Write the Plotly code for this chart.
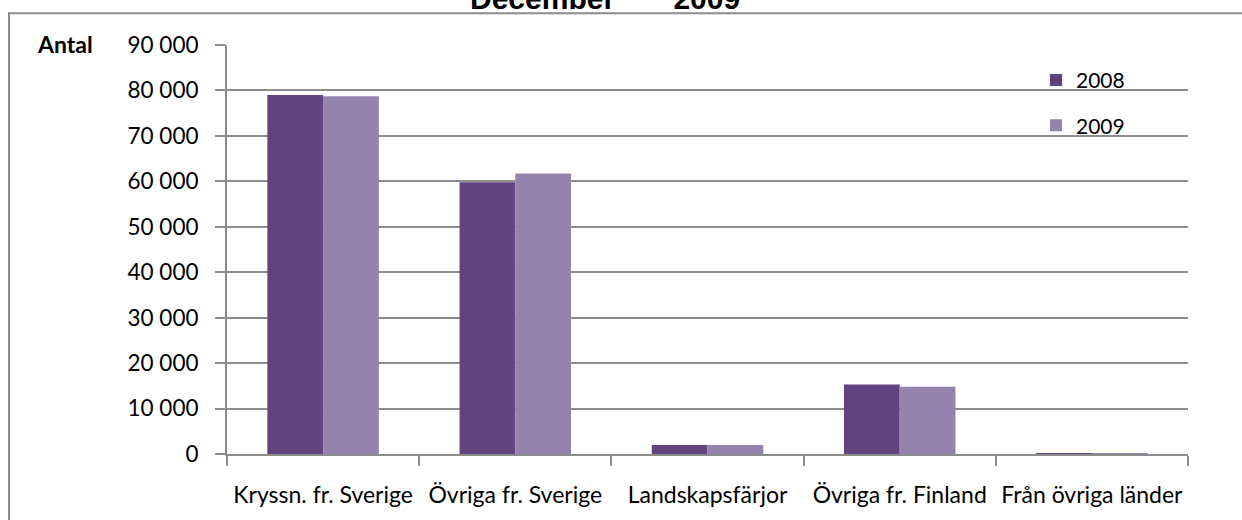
import plotly.graph_objects as go

categories = ["Kryssn. fr. Sverige", "Övriga fr. Sverige", "Landskapsfärjor",
              "Övriga fr. Finland", "Från övriga länder"]
values_2008 = [79000, 59800, 2000, 15300, 200]
values_2009 = [78700, 61700, 2000, 14800, 200]
series_names = ["2008", "2009"]
y_ticks = [0, 10000, 20000, 30000, 40000, 50000, 60000, 70000, 80000, 90000]
y_tick_labels = ["0", "10 000", "20 000", "30 000", "40 000", "50 000",
                 "60 000", "70 000", "80 000", "90 000"]
title_text = "December" + "&nbsp;" * 7 + "2009"
y_title = "Antal"

FONT = "Lato, Calibri, Carlito, sans-serif"
GRID = "#8c8c8c"

# body margin is removed in the page; plot area sits at x 227..1188, y 45..458
PL, PR, PT, PB = 227, 1188, 45, 458
W, H = 1242, 520
PW, PH = PR - PL, PB - PT

fig = go.Figure()
fig.add_trace(go.Bar(x=categories, y=values_2008, name=series_names[0],
                     marker=dict(color="#61437f", line=dict(width=0)),
                     legendgroup="a"))
fig.add_trace(go.Bar(x=categories, y=values_2009, name=series_names[1],
                     marker=dict(color="#9483ad", line=dict(width=0)),
                     legendgroup="b"))

fig.update_layout(
    width=W, height=H, autosize=False,
    margin=dict(l=PL, r=W - PR, t=PT, b=H - PB),
    paper_bgcolor="white", plot_bgcolor="white",
    barmode="group", bargap=0.42, bargroupgap=0,
    font=dict(family=FONT, size=21, color="black"),
    showlegend=True,
    legend=dict(x=(1036 - PL) / PW, y=(PB - 60) / PH, xanchor="left", yanchor="top",
                font=dict(family=FONT, size=21, color="black"),
                bgcolor="rgba(0,0,0,0)", traceorder="grouped",
                tracegroupgap=15, itemwidth=30),
    xaxis=dict(type="category", showgrid=False, showline=True,
               linecolor=GRID, linewidth=2, ticks="outside",
               tickson="boundaries", ticklen=10, tickcolor=GRID, tickwidth=2,
               tickfont=dict(family=FONT, size=23, color="black"),
               ticklabelstandoff=19),
    yaxis=dict(range=[0, 90000], tickvals=y_ticks, ticktext=y_tick_labels,
               showgrid=True, gridcolor=GRID, gridwidth=2,
               showline=True, linecolor=GRID, linewidth=2,
               ticks="outside", ticklen=10, tickcolor=GRID, tickwidth=2,
               tickfont=dict(family=FONT, size=22.5, color="black"),
               zeroline=False, ticklabelstandoff=12),
)

# outer chart border
fig.add_shape(type="rect", xref="paper", yref="paper",
              x0=(9 - PL) / PW, x1=1.2, y0=-0.3, y1=(PB - 13) / PH,
              line=dict(color="#8c8c8c", width=2), fillcolor="rgba(0,0,0,0)",
              layer="below")

fig.add_annotation(text="<b>" + title_text + "</b>", xref="paper", yref="paper",
                   x=(605 - PL) / PW, y=(PB - 17) / PH, xanchor="center",
                   yanchor="bottom", showarrow=False,
                   font=dict(family="Liberation Sans, Arial, sans-serif",
                             size=30, color="black"))
fig.add_annotation(text="<b>" + y_title + "</b>", xref="paper", yref="paper",
                   x=(35 - PL) / PW, y=(PB - 44) / PH, xanchor="left",
                   yanchor="middle", showarrow=False,
                   font=dict(family=FONT, size=23, color="black"))

fig.write_html("out.html",
               config={"displayModeBar": False, "responsive": False},
               post_script="document.body.style.margin='0px';"
                           "document.body.style.overflow='hidden';")
